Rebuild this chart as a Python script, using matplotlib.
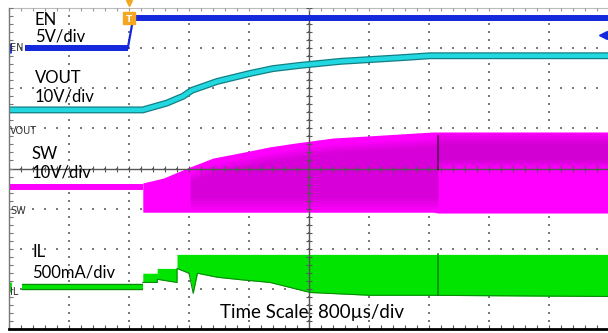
import matplotlib.pyplot as plt
import numpy as np

# scope screen in divisions: x 0..10 (800us/div), y -4..4
en_t = [0.27, 1.98, 2.07, 10.0]
en_v = [3.0, 3.0, 3.74, 3.74]

vout_t = [0.0, 2.23, 2.63, 2.9, 3.05, 3.47, 4.02, 4.4, 4.85, 5.52, 6.52, 7.02, 10.0]
vout_v = [1.46, 1.46, 1.63, 1.80, 1.95, 2.17, 2.37, 2.49, 2.57, 2.67, 2.76, 2.81, 2.81]

sw_low_t = [0.0, 2.23]
sw_low_v = [-0.46, -0.46]
sw_t = [2.23, 2.57, 3.02, 3.4, 3.68, 4.02, 4.35, 4.8, 5.4, 5.97, 6.52, 7.07, 7.15, 10.0]
sw_top = [-0.36, -0.24, 0.04, 0.26, 0.34, 0.44, 0.54, 0.64, 0.76, 0.81, 0.86, 0.91, 0.91, 0.91]
sw_bot = [-1.09, -1.09, -1.09, -1.09, -1.09, -1.09, -1.09, -1.09, -1.09, -1.09, -1.09, -1.09, -1.11, -1.11]

il_low_t = [0.22, 2.23]
il_low_v = [-2.96, -2.96]
il_t = [2.23, 2.47, 2.47, 2.80, 2.80, 3.00, 3.07, 3.14, 3.47, 3.85, 4.35, 5.02, 6.02, 7.02, 10.0]
il_top = [-2.61, -2.61, -2.49, -2.49, -2.14, -2.14, -2.14, -2.14, -2.14, -2.14, -2.14, -2.14, -2.14, -2.14, -2.14]
il_bot = [-2.84, -2.84, -2.76, -2.84, -2.49, -2.61, -3.11, -2.61, -2.71, -2.77, -2.84, -3.09, -3.16, -3.16, -3.19]

spike_t = 7.15  # glitch visible on SW and IL

blue = '#1428DC'
cyan = '#22D8E0'
magenta = '#FF00FF'
green = '#00E400'
orange = '#F5A623'

fig = plt.figure(figsize=(6.08, 3.33), dpi=100)
ax = fig.add_axes([9/608, 4/333, 600/608, 321/333])
ax.set_xlim(0, 10)
ax.set_ylim(-4, 4)
ax.set_xticks([])
ax.set_yticks([])
for s in ['top', 'right']:
    ax.spines[s].set_visible(False)
ax.spines['left'].set_color('#777777')
ax.spines['left'].set_linewidth(1)
ax.spines['bottom'].set_color('black')
ax.spines['bottom'].set_linewidth(2)
ax.axhline(4, color='#bbbbbb', lw=0.8, clip_on=False)

# dotted graticule
for gx in range(11):
    ax.plot([gx] * 41, np.linspace(-4, 4, 41), ls='none', marker='s', ms=1.5,
            mew=0, color='#7a7a7a', zorder=1)
for gy in range(-4, 5):
    ax.plot(np.linspace(0, 10, 51), [gy] * 51, ls='none', marker='s', ms=1.5,
            mew=0, color='#7a7a7a', zorder=1)

# center crosshair with ticks
ax.axhline(0, color='#555555', lw=1)
ax.axvline(5, color='#555555', lw=1)
ax.plot(np.arange(0, 10.01, 0.2), np.zeros(51), ls='none', marker='|', ms=5,
        color='#555555', mew=0.8)
ax.plot(np.full(41, 5.0), np.linspace(-4, 4, 41), ls='none', marker='_', ms=5,
        color='#555555', mew=0.8)
ax.plot(np.zeros(41), np.linspace(-4, 4, 41), ls='none', marker=1, ms=3,
        color='#777777', mew=0.8)
ax.plot(np.arange(0, 10.01, 0.2), np.full(51, 4.0), ls='none', marker=3, ms=2.5,
        color='#999999', mew=0.8, clip_on=False)
ax.plot(np.arange(0, 10.01, 0.2), np.full(51, -4.0), ls='none', marker=2, ms=3,
        color='#555555', mew=0.8, clip_on=False)

# EN: thick flat levels, thin rising edge
ax.plot(en_t[:2], en_v[:2], color=blue, lw=4.3, solid_capstyle='butt')
ax.plot(en_t[2:], en_v[2:], color=blue, lw=4.3, solid_capstyle='butt')
ax.plot(en_t[1:3], en_v[1:3], color=blue, lw=1.6)

# VOUT
ax.plot(vout_t, vout_v, color='#137E84', lw=5.0, solid_capstyle='butt')
ax.plot(vout_t, vout_v, color=cyan, lw=3.2, solid_capstyle='butt')

# SW
ax.plot(sw_low_t, sw_low_v, color=magenta, lw=4.3, solid_capstyle='butt')
ax.fill_between(sw_t, sw_bot, sw_top, color=magenta, lw=0)
st = np.array(sw_t)
top = np.array(sw_top)
bot = np.array(sw_bot)
m1 = (st >= 3.02) & (st <= spike_t)
m2 = st >= spike_t
for k in range(5):
    ax.fill_between(st[m1], bot[m1] + 0.08 + 0.07 * k, top[m1] - 0.15 - 0.05 * k,
                    color='#900090', alpha=0.08, lw=0)
    ax.fill_between(st[m2], np.full(m2.sum(), 0.0 + 0.05 * k), top[m2] - 0.05 - 0.06 * k,
                    color='#900090', alpha=0.09, lw=0)
ax.plot([spike_t, spike_t], [0.0, np.interp(spike_t, sw_t, sw_top) - 0.1],
        color='#5a005a', lw=1.5, alpha=0.8)

# IL
ax.plot(il_low_t, il_low_v, color='#0A8A0A', lw=4.6, solid_capstyle='butt')
ax.plot(il_low_t, il_low_v, color=green, lw=2.8, solid_capstyle='butt')
ax.fill_between(il_t, il_bot, il_top, color=green, lw=0)
ax.plot(il_t, il_bot, color='#0A8A0A', lw=0.8)
ax.plot([spike_t, spike_t], [np.interp(spike_t, il_t, il_top),
                             np.interp(spike_t, il_t, il_bot)],
        color='#0A7A0A', lw=1.3, alpha=0.8)

# markers: trigger and channel offset
ax.plot(2.0, 3.74, marker='s', ms=8, color=orange, clip_on=False)
ax.text(2.0, 3.72, 'T', color='white', fontsize=6.5, ha='center', va='center',
        fontweight='bold')
ax.plot(2.0, 4.13, marker='v', ms=5, color=orange, clip_on=False)
ax.plot(9.9, 3.33, marker='<', ms=6, color=blue, clip_on=False)
ax.plot(0.02, 3.0, marker='|', ms=7, mew=2, color=blue)
ax.plot(0.02, -2.96, marker='|', ms=7, mew=2, color=green)

# small channel labels at left edge
small = dict(fontsize=7, color='#333333', va='center', ha='left',
             family=['Liberation Sans Narrow', 'DejaVu Sans'])
fig.text(10/608, 1 - 48/333, 'EN', **small)
fig.text(10/608, 1 - 131/333, 'VOUT', **small)
fig.text(10/608, 1 - 211/333, 'SW', **small)
fig.text(10/608, 1 - 292/333, 'IL', **small)

# channel annotations
big = dict(fontsize=12, color='black', va='baseline', ha='left', family='Lato')
fig.text(35/608, 1 - 25/333, 'EN', **big)
fig.text(35/608, 1 - 42/333, '5V/div', **big)
fig.text(35/608, 1 - 83/333, 'VOUT', **big)
fig.text(35/608, 1 - 102/333, '10V/div', **big)
fig.text(32/608, 1 - 159/333, 'SW', **big)
fig.text(32/608, 1 - 177/333, '10V/div', **big)
fig.text(32/608, 1 - 257/333, 'IL', **big)
fig.text(32/608, 1 - 277/333, '500mA/div', **big)
big['fontsize'] = 13.5
fig.text(220/608, 1 - 318/333, 'Time Scale: 800\u00b5s/div', **big)

fig.savefig('out.png', dpi=100)
